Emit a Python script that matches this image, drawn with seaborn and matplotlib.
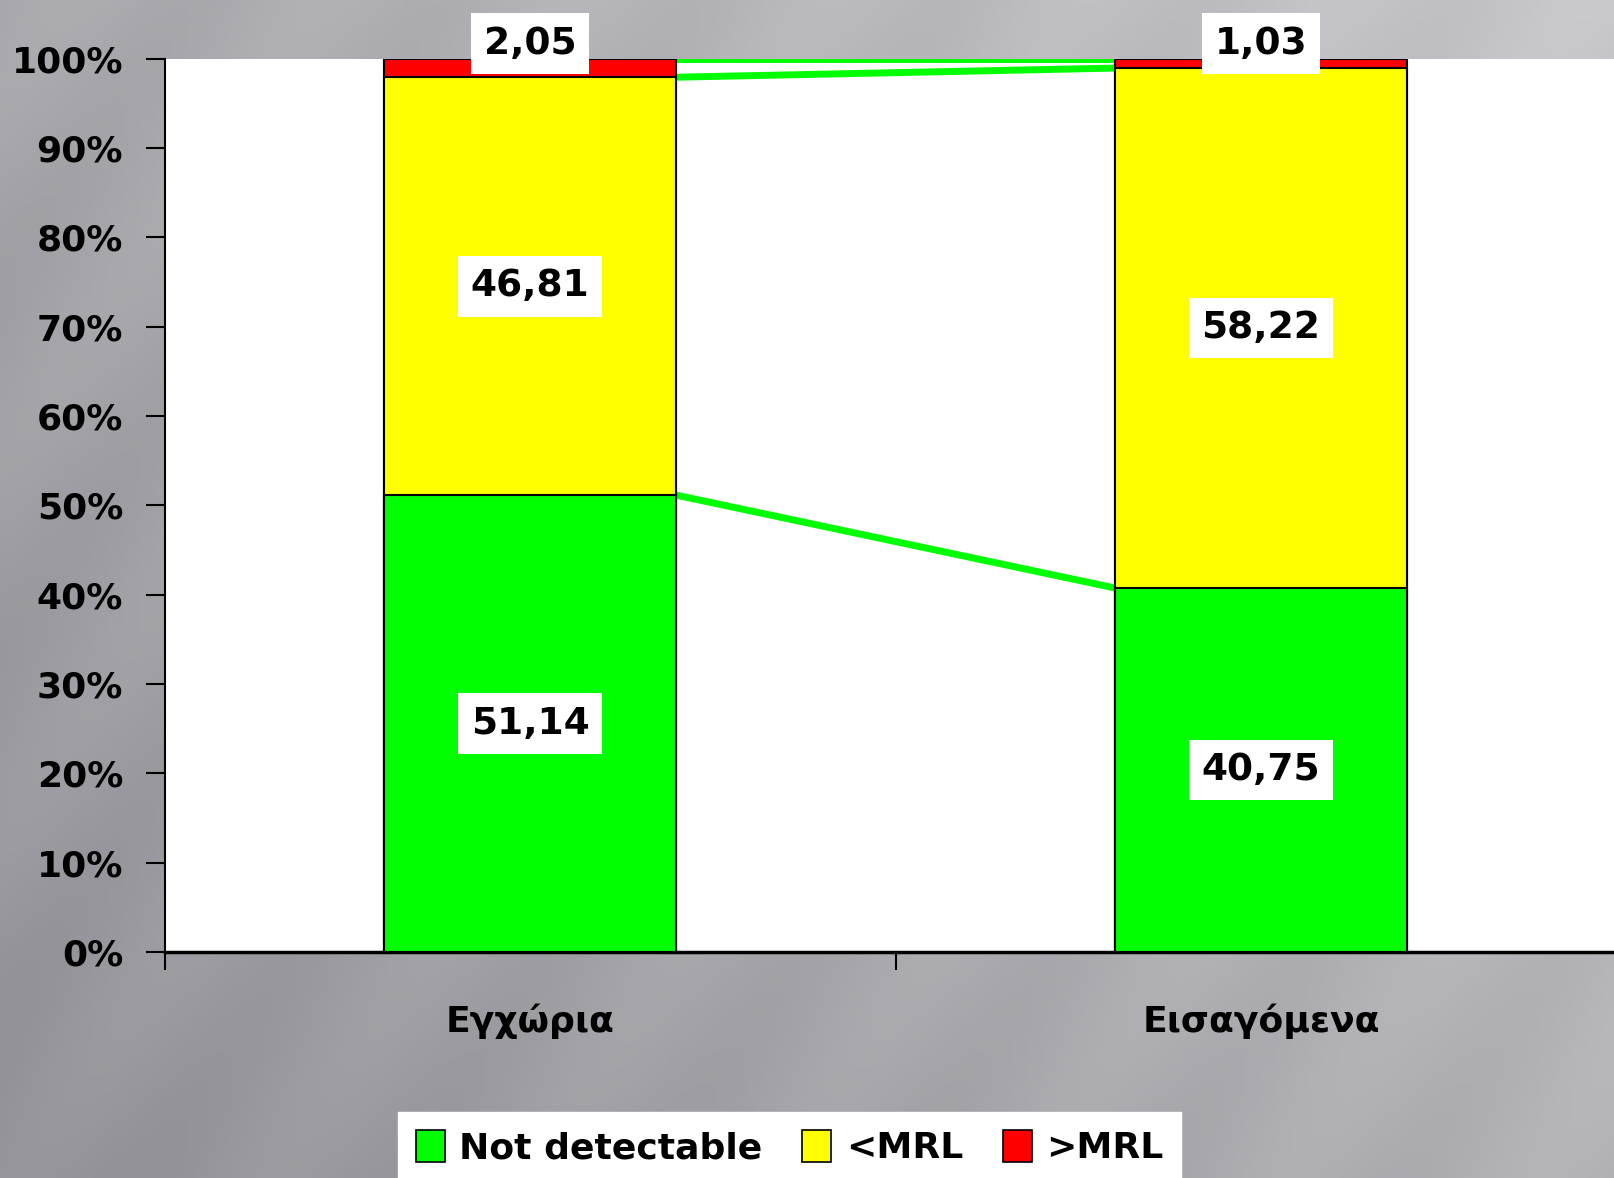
import numpy as np
import pandas as pd
import matplotlib
matplotlib.use("Agg")
import matplotlib.pyplot as plt
import matplotlib.patches as mpatches
import seaborn as sns

categories = ["Εγχώρια", "Εισαγόμενα"]
not_detectable = [51.14, 40.75]
below_mrl = [46.81, 58.22]
above_mrl = [2.05, 1.03]
series_names = ["Not detectable", "<MRL", ">MRL"]
colors = ["#00ff00", "#ffff00", "#ff0000"]
y_ticks = [0, 10, 20, 30, 40, 50, 60, 70, 80, 90, 100]

sns.set_theme(style="white")
plt.rcParams['font.family'] = ['DejaVu Sans']
plt.rcParams['font.weight'] = 'bold'
plt.rcParams['text.color'] = 'black'
plt.rcParams['xtick.color'] = 'black'
plt.rcParams['ytick.color'] = 'black'
plt.rcParams['xtick.labelcolor'] = 'black'
plt.rcParams['ytick.labelcolor'] = 'black'

fig = plt.figure(figsize=(16.15, 11.78), dpi=100)

# background gradient
bg = fig.add_axes([0, 0, 1, 1], zorder=-10)
yy, xx = np.mgrid[0:1:300j, 0:1:300j]
grad = 0.45 * xx + 0.3 * (1 - yy) + 0.05 * np.sin(40 * (xx + 0.5 * yy))
bg.imshow(grad, cmap=matplotlib.colors.LinearSegmentedColormap.from_list(
    "g", ["#929298", "#cacace"]), aspect="auto", extent=[0, 1, 0, 1],
    vmin=0.0, vmax=0.8)
bg.axis("off")

ax = fig.add_axes([0.102, 0.192, 0.905, 0.758])
ax.set_facecolor("white")

df = pd.DataFrame({"cat": categories,
                   "c1": np.array(not_detectable),
                   "c2": np.array(not_detectable) + np.array(below_mrl)})
df["c3"] = df["c2"] + np.array(above_mrl)

for col, color in zip(["c3", "c2", "c1"], colors[::-1]):
    sns.barplot(data=df, x="cat", y=col, color=color, width=0.4,
                edgecolor="black", linewidth=1.5, saturation=1, ax=ax, zorder=3)

# series lines between bars
for col in ["c1", "c2", "c3"]:
    ax.plot([0.2, 0.8], df[col].values, color="#00ff00", lw=5, zorder=2,
            solid_capstyle="butt")

# value labels
for i in range(len(categories)):
    segs = [(not_detectable[i], not_detectable[i] / 2),
            (below_mrl[i], not_detectable[i] + below_mrl[i] / 2),
            (above_mrl[i], 101.7)]
    for val, ypos in segs:
        ax.text(i, ypos, f"{val:.2f}".replace(".", ","), ha="center", va="center",
                fontsize=27, fontweight="bold", color="black", zorder=5,
                clip_on=False,
                bbox=dict(boxstyle="square,pad=0.33", fc="white", ec="none"))

ax.set_xlim(-0.5, 1.5)
ax.set_ylim(0, 100)
ax.set_yticks(y_ticks)
ax.set_yticklabels([f"{t}%" for t in y_ticks], fontsize=26, fontweight="bold")
ax.set_xticks([0, 1])
ax.set_xticklabels(categories, fontsize=26, fontweight="bold")
ax.set_xticks([-0.5, 0.5, 1.5], minor=True)
ax.tick_params(axis="x", which="major", length=0, pad=37, bottom=False)
ax.tick_params(axis="x", which="minor", length=13, width=1.5, color="black",
               direction="out", bottom=True)
ax.tick_params(axis="y", length=14, width=1.5, color="black", direction="out", pad=16,
               left=True, labelcolor="black")
ax.set_xlabel("")
ax.set_ylabel("")
for s in ["top", "right"]:
    ax.spines[s].set_visible(False)
for s in ["left", "bottom"]:
    ax.spines[s].set_color("black")
    ax.spines[s].set_linewidth(1.5)
ax.spines["bottom"].set_linewidth(2.5)

handles = [mpatches.Patch(facecolor=c, edgecolor="black", lw=1.2, label=n)
           for c, n in zip(colors, series_names)]
leg = fig.legend(handles=handles, loc="lower center", bbox_to_anchor=(0.489, -0.02),
                 ncol=3, frameon=True, fancybox=False,
                 prop={"weight": "bold", "size": 26},
                 handlelength=0.8, handleheight=1.0, handletextpad=0.4,
                 columnspacing=1.1, borderpad=0.5)
leg.get_frame().set_facecolor("white")
leg.get_frame().set_edgecolor("white")
leg.get_frame().set_alpha(1)
for t in leg.get_texts():
    t.set_color("black")

fig.savefig("out.png", dpi=100)
